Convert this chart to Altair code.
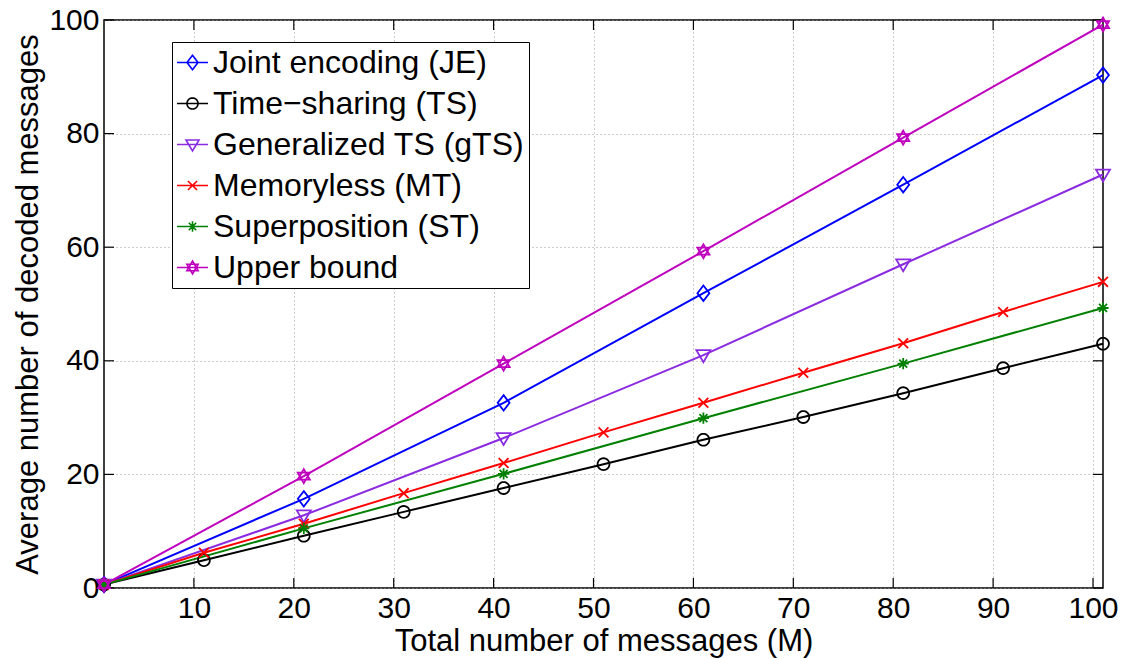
import math
import altair as alt
import pandas as pd

# ---------------- data ----------------
series = [
    "Joint encoding (JE)",
    "Time\u2212sharing (TS)",
    "Generalized TS (gTS)",
    "Memoryless (MT)",
    "Superposition (ST)",
    "Upper bound",
]
colors = ["#0000FF", "#000000", "#8A2BE2", "#FF0000", "#008000", "#BF00BF"]

m_every10 = [1, 11, 21, 31, 41, 51, 61, 71, 81, 91, 101]
m_every20 = [1, 21, 41, 61, 81, 101]

je = [0.6, 15.7, 32.6, 51.9, 71.0, 90.3]
ts = [0.6, 4.9, 9.2, 13.4, 17.6, 21.8, 26.1, 30.1, 34.3, 38.7, 43.0]
gts = [0.6, 12.8, 26.4, 41.0, 57.0, 72.8]
mt = [0.6, 6.2, 11.3, 16.7, 22.0, 27.4, 32.6, 37.9, 43.1, 48.6, 53.9]
st = [0.6, 10.5, 20.1, 29.9, 39.5, 49.3]
ub = [0.6, 19.7, 39.5, 59.3, 79.3, 99.2]

x_ticks = [10, 20, 30, 40, 50, 60, 70, 80, 90, 100]
y_ticks = [0, 20, 40, 60, 80, 100]

x_title = "Total number of messages (M)"
y_title = "Average number of decoded messages"

rows = []
for name, xs, ys in [
    (series[0], m_every20, je),
    (series[1], m_every10, ts),
    (series[2], m_every20, gts),
    (series[3], m_every10, mt),
    (series[4], m_every20, st),
    (series[5], m_every20, ub),
]:
    for x, y in zip(xs, ys):
        rows.append({"M": x, "value": y, "series": name})
df = pd.DataFrame(rows)

# ---------------- marker geometry (style) ----------------
def circle_pts(r, n=28):
    return [(r * math.cos(2 * math.pi * k / n), r * math.sin(2 * math.pi * k / n)) for k in range(n)]

marker_defs = [
    [([(0, -1.1), (0.85, 0), (0, 1.1), (-0.85, 0)], True)],                       # diamond
    [(circle_pts(0.85), True)],                                                   # circle
    [([(-1, -0.7), (1, -0.7), (0, 1)], True)],                                    # triangle down
    [([(-0.7, -0.7), (0.7, 0.7)], False), ([(-0.7, 0.7), (0.7, -0.7)], False)],   # x
    [([(-0.8, 0), (0.8, 0)], False), ([(0, -0.8), (0, 0.8)], False),
     ([(-0.57, -0.57), (0.57, 0.57)], False), ([(-0.57, 0.57), (0.57, -0.57)], False)],  # asterisk
    [([(0, -1), (0.866, 0.5), (-0.866, 0.5)], True),
     ([(0, 1), (0.866, -0.5), (-0.866, -0.5)], True)],                            # hexagram
]

def to_path(defn, s=1.0, with_line=False):
    parts = []
    if with_line:
        parts.append("M-1,0L1,0")
    for pts, closed in defn:
        seg = "M" + "L".join(f"{x * s:.3f},{y * s:.3f}" for x, y in pts)
        if closed:
            seg += "Z"
        parts.append(seg)
    return "".join(parts)

plot_shapes = [to_path(d) for d in marker_defs]
legend_shapes = [to_path(d, 0.42, True) for d in marker_defs]

FONT = "Liberation Sans"

x_enc = alt.X(
    "M:Q",
    scale=alt.Scale(domain=[1, 101], nice=False, zero=False),
    axis=alt.Axis(
        values=x_ticks, title=x_title, grid=True, gridDash=[1, 3], gridColor="#9a9a9a",
        gridWidth=1, ticks=False, domain=False, labelFontSize=30, titleFontSize=31,
        labelFont=FONT, titleFont=FONT, titleFontWeight="normal", labelColor="black",
        titleColor="black", labelPadding=5, titlePadding=3, labelFlush=False,
    ),
)
y_enc = alt.Y(
    "value:Q",
    scale=alt.Scale(domain=[0, 100], nice=False),
    axis=alt.Axis(
        values=y_ticks, title=y_title, grid=True, gridDash=[1, 3], gridColor="#9a9a9a",
        gridWidth=1, ticks=False, domain=False, labelFontSize=30, titleFontSize=31,
        labelFont=FONT, titleFont=FONT, titleFontWeight="normal", labelColor="black",
        titleColor="black", labelPadding=5, titlePadding=4, labelFlush=False,
    ),
)

base = alt.Chart(df)

lines = base.mark_line(strokeWidth=2).encode(
    x=x_enc, y=y_enc,
    color=alt.Color("series:N", scale=alt.Scale(domain=series, range=colors), legend=None),
    detail="series:N",
)

points = base.mark_point(filled=False, size=196, strokeWidth=1.8, opacity=1).encode(
    x=x_enc, y=y_enc,
    color=alt.Color("series:N", scale=alt.Scale(domain=series, range=colors), legend=None),
    shape=alt.Shape("series:N", scale=alt.Scale(domain=series, range=plot_shapes), legend=None),
)

legend_props = dict(
    orient="none", legendX=68, legendY=22, direction="vertical",
    strokeColor="black", fillColor="white", padding=4, cornerRadius=0,
    symbolSize=961, symbolStrokeWidth=1.6, symbolOpacity=1,
    labelFont=FONT, labelFontSize=32, labelColor="black", labelLimit=500,
    labelOffset=4, rowPadding=8,
)

legend_layer = base.mark_point(filled=False, size=20, opacity=0).encode(
    x=x_enc, y=y_enc,
    color=alt.Color("series:N", scale=alt.Scale(domain=series, range=colors), title=None,
                    legend=alt.Legend(**legend_props)),
    shape=alt.Shape("series:N", scale=alt.Scale(domain=series, range=legend_shapes), title=None,
                    legend=alt.Legend(**legend_props)),
)

# inward tick marks on all four sides (MATLAB box style)
xt = alt.Chart(pd.DataFrame({"M": x_ticks}))
yt = alt.Chart(pd.DataFrame({"value": y_ticks}))
tick_style = dict(color="black", strokeWidth=1.2)
ticks_bottom = xt.mark_rule(**tick_style).encode(x=x_enc, y=alt.value(568), y2=alt.value(558))
ticks_top = xt.mark_rule(**tick_style).encode(x=x_enc, y=alt.value(0), y2=alt.value(10))
ticks_left = yt.mark_rule(**tick_style).encode(y=y_enc, x=alt.value(0), x2=alt.value(10))
ticks_right = yt.mark_rule(**tick_style).encode(y=y_enc, x=alt.value(999), x2=alt.value(989))

chart = (
    alt.layer(ticks_bottom, ticks_top, ticks_left, ticks_right, lines, points, legend_layer)
    .resolve_scale(color="independent", shape="independent")
    .properties(
        width=999, height=568,
        autosize=alt.AutoSizeParams(type="none"),
        padding={"left": 104, "top": 20, "right": 22, "bottom": 71},
        background="white",
    )
    .configure_view(stroke="black", strokeWidth=1.5)
)

chart.save("out.html", embed_options={"renderer": "svg", "actions": False})
